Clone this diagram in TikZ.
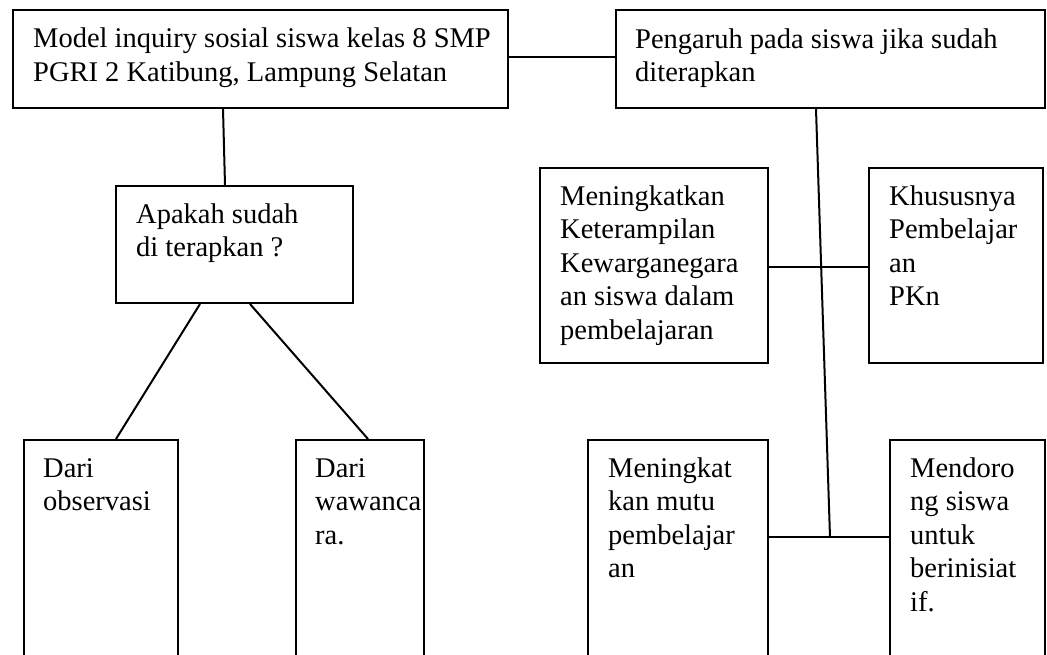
\documentclass[tikz,border=0pt]{standalone}
\usepackage{fontspec}
\setmainfont{Liberation Serif}
\usetikzlibrary{calc}
\tikzset{
  box/.style={draw, rectangle, line width=2pt, inner sep=0pt, anchor=north west},
  txt/.style={anchor=north west, inner sep=0pt, align=left, font=\fontsize{28.5}{33.5}\selectfont},
  conn/.style={line width=2pt},
}
\begin{document}
\begin{tikzpicture}[x=1pt,y=-1pt]
\useasboundingbox (0,0) rectangle (1047,655);
\fill[white] (0,0) rectangle (1047,655);
\clip (0,0) rectangle (1047,655);
% boxes
\node[box, minimum width=495pt, minimum height=98pt] (b1) at (12,9) {};
\node[box, minimum width=429pt, minimum height=98pt] (b2) at (615,9) {};
\node[box, minimum width=237pt, minimum height=117pt] (ap) at (115,185) {};
\node[box, minimum width=154pt, minimum height=261pt] (obs) at (23,439) {};
\node[box, minimum width=128pt, minimum height=261pt] (waw) at (295,439) {};
\node[box, minimum width=228pt, minimum height=195pt] (menk) at (539,167) {};
\node[box, minimum width=174pt, minimum height=195pt] (khus) at (868,167) {};
\node[box, minimum width=180pt, minimum height=261pt] (mutu) at (587,439) {};
\node[box, minimum width=155pt, minimum height=261pt] (mend) at (889,439) {};
% texts
\node[txt] (t1) at (33,24) {\strut Model inquiry sosial siswa kelas 8 SMP\\PGRI 2 Katibung, Lampung Selatan};
\node[txt] (t2) at (635,24.5) {\strut Pengaruh pada siswa jika sudah\\diterapkan};
\node[txt] (tap) at (136,199.5) {\strut Apakah sudah\\di terapkan ?};
\node[txt] (tobs) at (43,453.5) {\strut Dari\\observasi};
\node[txt] (twaw) at (315,453.5) {\strut Dari\\wawanca\\ra.};
\node[txt] (tmenk) at (560,181.5) {\strut Meningkatkan\\Keterampilan\\Kewarganegara\\an siswa dalam\\pembelajaran};
\node[txt] (tkhus) at (889,181.5) {\strut Khususnya\\Pembelajar\\an\\PKn};
\node[txt] (tmutu) at (608,453.5) {\strut Meningkat\\kan mutu\\pembelajar\\an};
\node[txt] (tmend) at (910,453.5) {\strut Mendoro\\ng siswa\\untuk\\berinisiat\\if.};
% connectors
\coordinate (j) at ($(mutu.north east)+(61,98)$);
\draw[conn] ($(b1.north east)+(0,48)$) -- ($(b2.north west)+(0,48)$);
\draw[conn] ($(b1.south west)+(211,0)$) -- ($(ap.north west)+(110,0)$);
\draw[conn] ($(ap.south west)+(85,0)$) -- ($(obs.north west)+(93,0)$);
\draw[conn] ($(ap.south west)+(135,0)$) -- ($(waw.north west)+(73,0)$);
\draw[conn] ($(b2.south west)+(201,0)$) -- (j);
\draw[conn] ($(menk.north east)+(0,100)$) -- ($(khus.north west)+(0,100)$);
\draw[conn] ($(mutu.north east)+(0,98)$) -- ($(mend.north west)+(0,98)$);
\end{tikzpicture}
\end{document}
